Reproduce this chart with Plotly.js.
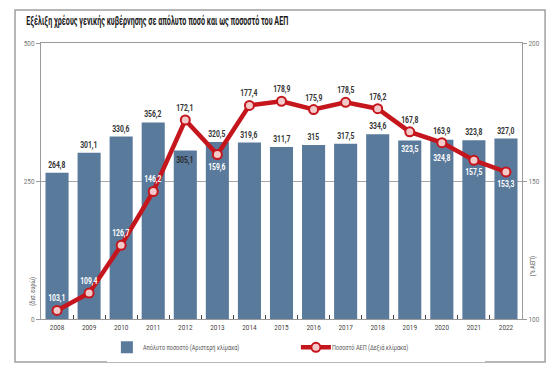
<!DOCTYPE html>
<html>
<head>
<meta charset="utf-8">
<script src="https://cdn.plot.ly/plotly-3.0.1.min.js"></script>
<style>
  html, body { margin: 0; padding: 0; background: #ffffff; }
  #chart { width: 558px; height: 379px; }
</style>
</head>
<body>
<div id="chart"></div>
<script>
// ---- data ----
const years = ["2008","2009","2010","2011","2012","2013","2014","2015","2016","2017","2018","2019","2020","2021","2022"];
const debtBn = [264.8, 301.1, 330.6, 356.2, 305.1, 320.5, 319.6, 311.7, 315, 317.5, 334.6, 323.5, 324.8, 323.8, 327.0];
const debtBnLabels = ["264,8","301,1","330,6","356,2","305,1","320,5","319,6","311,7","315","317,5","334,6","323,5","324,8","323,8","327,0"];
const debtPctGdp = [103.1, 109.4, 126.7, 146.2, 172.1, 159.6, 177.4, 178.9, 175.9, 178.5, 176.2, 167.8, 163.9, 157.5, 153.3];
const seriesNames = ["Απόλυτο ποσοστό (Αριστερή κλίμακα)", "Ποσοστό ΑΕΠ (Δεξιά κλίμακα)"];
const titleText = "Εξέλιξη χρέους γενικής κυβέρνησης σε απόλυτο ποσό και ως ποσοστό του ΑΕΠ";
const leftTicks = [0, 250, 500];
const rightTicks = [100, 150, 200];

// ---- label placement styles ----
const barLabelPos = ["out","out","out","out","in","out","out","out","out","out","out","in","in","out","out"];
const barLabelShift = [0,0,0,0,-2,0,0,0,0,0,0,-2,-11,0,0];
const barLabelColor = ["#333","#333","#333","#333","#2b2b2b","#333","#333","#333","#333","#333","#333","#fff","#fff","#333","#333"];
const pctLabelPos = ["up","up","up","up","up","down","up","up","up","up","up","up","up","down","down"];
const pctLabelColor = ["#fff","#fff","#fff","#fff","#333","#fff","#333","#333","#333","#333","#333","#333","#333","#fff","#fff"];

const FONT = '"Roboto", "DejaVu Sans Condensed", sans-serif';
const fmtPct = v => v.toFixed(1).replace('.', ',');

const annotations = [];
years.forEach((yr, i) => {
  const out = barLabelPos[i] === "out";
  annotations.push({
    x: i, y: debtBn[i], xref: "x", yref: "y",
    text: debtBnLabels[i], showarrow: false,
    yanchor: out ? "bottom" : "top",
    yshift: out ? 1 : barLabelShift[i],
    font: { family: FONT, size: 8.5, color: barLabelColor[i], weight: "bold" }
  });
  const up = pctLabelPos[i] === "up";
  annotations.push({
    x: i, y: debtPctGdp[i], xref: "x", yref: "y2",
    text: fmtPct(debtPctGdp[i]), showarrow: false,
    yanchor: up ? "bottom" : "top",
    yshift: up ? 5 : -5,
    font: { family: FONT, size: 8.5, color: pctLabelColor[i], weight: "bold" }
  });
});
annotations.push({
  xref: "paper", yref: "paper", x: -0.017, y: 0.1, text: "(δισ. ευρώ)",
  textangle: -90, showarrow: false, xanchor: "center", yanchor: "middle",
  font: { family: FONT, size: 7, color: "#555" }
});
annotations.push({
  xref: "paper", yref: "paper", x: 1.021, y: 0.19, text: "(% ΑΕΠ)",
  textangle: -90, showarrow: false, xanchor: "center", yanchor: "middle",
  font: { family: FONT, size: 7, color: "#555" }
});

const traces = [
  {
    type: "bar", x: years, y: debtBn, name: seriesNames[0], yaxis: "y",
    marker: { color: "#5a7a9c", line: { width: 0 } },
    hoverinfo: "skip"
  },
  {
    type: "scatter", mode: "lines+markers", x: years, y: debtPctGdp, name: seriesNames[1], yaxis: "y2",
    line: { color: "#c4161c", width: 4.5 },
    marker: { symbol: "circle", size: 9, color: "#f3caca", line: { color: "#c4161c", width: 2 } },
    hoverinfo: "skip"
  }
];

const layout = {
  width: 558, height: 379,
  margin: { l: 41, r: 36, t: 43, b: 60, pad: 0 },
  paper_bgcolor: "#ffffff", plot_bgcolor: "#ffffff",
  font: { family: FONT, size: 8, color: "#555" },
  title: {
    text: titleText, x: 0.047, xanchor: "left", y: 0.945, yanchor: "middle",
    font: { family: FONT, size: 12.5, color: "#1a1a1a", weight: "bold" }
  },
  bargap: 0.28,
  showlegend: true,
  legend: {
    orientation: "h", x: 0.137, xanchor: "left", y: -0.05, yanchor: "top",
    font: { family: FONT, size: 7.5, color: "#555" },
    itemwidth: 30, entrywidth: 144, traceorder: "normal"
  },
  xaxis: {
    type: "category", range: [-0.5, years.length - 0.5], autorange: false,
    showgrid: false, zeroline: false,
    showline: true, mirror: true, linecolor: "#9a9a9a", linewidth: 1,
    ticks: "inside", tickson: "boundaries", ticklen: 4, tickcolor: "#444", tickwidth: 1,
    tickfont: { family: FONT, size: 8, color: "#444" },
    fixedrange: true
  },
  yaxis: {
    range: [0, 500], tickvals: leftTicks, ticktext: leftTicks.map(String),
    showgrid: true, gridcolor: "#a6a6a6", gridwidth: 1, zeroline: false,
    showline: true, linecolor: "#9a9a9a", linewidth: 1,
    ticks: "outside", ticklen: 4, tickcolor: "#9a9a9a",
    tickfont: { family: FONT, size: 7.5, color: "#777" }, fixedrange: true
  },
  yaxis2: {
    range: [100, 200], tickvals: rightTicks, ticktext: rightTicks.map(String),
    overlaying: "y", side: "right", showgrid: false, zeroline: false,
    showline: true, linecolor: "#9a9a9a", linewidth: 1,
    ticks: "outside", ticklen: 4, tickcolor: "#9a9a9a",
    tickfont: { family: FONT, size: 7.5, color: "#777" }, fixedrange: true
  },
  annotations: annotations,
  shapes: [
    { type: "rect", xref: "paper", yref: "paper", x0: -0.054, x1: 1.048, y0: -0.156, y1: 1.12,
      line: { color: "#a0a0a0", width: 1.5 }, fillcolor: "rgba(0,0,0,0)", layer: "below" }
  ]
};

// mimic the condensed typeface of the original by narrowing the rendered text
function condense(gd, selector, factor, fixed) {
  gd.querySelectorAll(selector).forEach(t => {
    const w = t.getComputedTextLength();
    if (!w) return;
    const target = fixed ? fixed : w * factor;
    t.setAttribute("textLength", target.toFixed(1));
    t.setAttribute("lengthAdjust", "spacingAndGlyphs");
  });
}

Plotly.newPlot("chart", traces, layout, { staticPlot: true, displayModeBar: false }).then(gd => {
  condense(gd, ".gtitle", 1, 262);
  condense(gd, ".legendtext", 0.74);
  condense(gd, ".xtick text", 0.8);
  condense(gd, ".ytick text, .y2tick text", 0.85);
  condense(gd, ".annotation-text", 0.8);
  gd.querySelectorAll(".legendtext").forEach(t => {
    const x = parseFloat(t.getAttribute("x") || "40");
    t.setAttribute("x", (x - 4).toString());
  });
});
</script>
</body>
</html>
